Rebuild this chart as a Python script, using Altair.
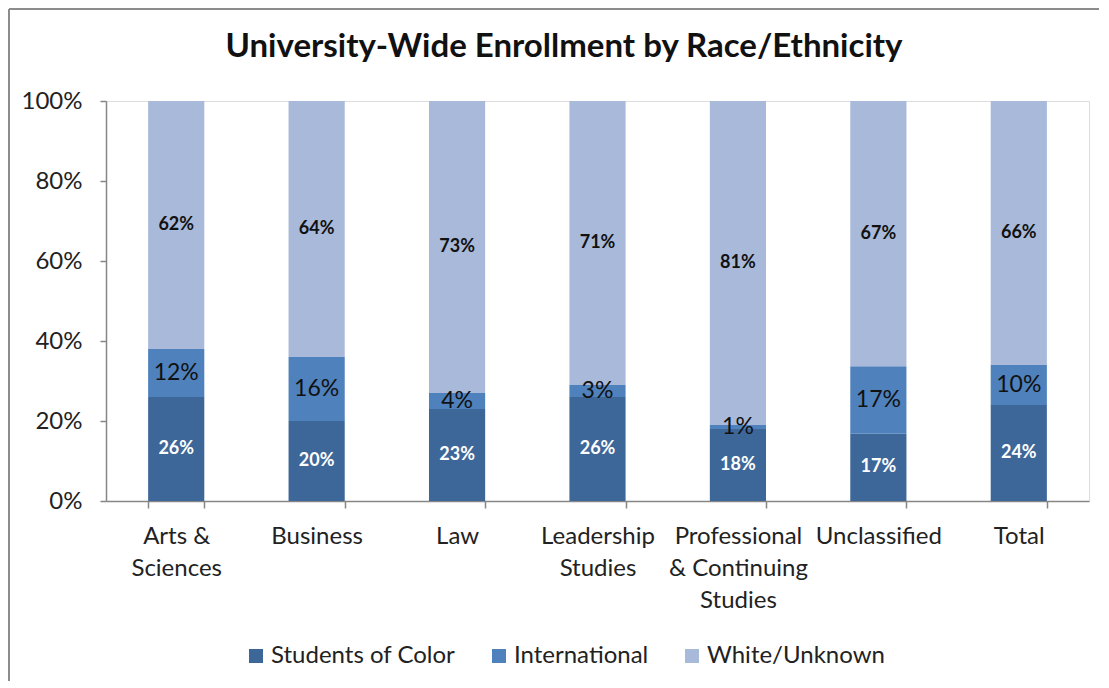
import altair as alt
import pandas as pd

title_text = "University-Wide Enrollment by Race/Ethnicity"
categories = ["Arts & Sciences", "Business", "Law", "Leadership Studies",
              "Professional & Continuing Studies", "Unclassified", "Total"]
groups = ["Students of Color", "International", "White/Unknown"]
students_of_color = [26, 20, 23, 26, 18, 17, 24]
international = [12, 16, 4, 3, 1, 17, 10]
white_unknown = [62, 64, 73, 71, 81, 67, 66]
colors = ["#3E6799", "#4F81BD", "#A8B9DA"]
y_ticks = [0, 0.2, 0.4, 0.6, 0.8, 1.0]

rows = []
for gi, (g, vals) in enumerate(zip(groups, [students_of_color, international, white_unknown])):
    for c, v in zip(categories, vals):
        rows.append({"cat": c, "group": g, "ord": gi, "value": v, "label": f"{v}%"})
df = pd.DataFrame(rows)

label_expr = (
    "datum.label == 'Arts & Sciences' ? ['Arts &', 'Sciences'] : "
    "datum.label == 'Leadership Studies' ? ['Leadership', 'Studies'] : "
    "datum.label == 'Professional & Continuing Studies' ? ['Professional', '& Continuing', 'Studies'] : "
    "datum.label"
)

base = alt.Chart(df).transform_stack(
    stack="value", groupby=["cat"], as_=["y0", "y1"], offset="normalize",
    sort=[alt.SortField("ord", order="ascending")]
).transform_calculate(mid="(datum.y0 + datum.y1) / 2")

xenc = alt.X("cat:N", sort=categories, title=None,
             scale=alt.Scale(paddingInner=0.6, paddingOuter=0.3),
             axis=alt.Axis(labelExpr=label_expr, labelAngle=0, tickBand="extent",
                           grid=False,
                           labelFontSize=24, labelLineHeight=32, labelPadding=16,
                           labelColor="#222222", labelFont="Lato",
                           domainColor="#868686", tickColor="#868686",
                           domainWidth=1.5, tickWidth=1.5, tickSize=7, labelLimit=200))

bars = base.mark_bar().encode(
    x=xenc,
    y=alt.Y("y0:Q", title=None,
            scale=alt.Scale(domain=[0, 1], nice=False),
            axis=alt.Axis(values=y_ticks, format=".0%", grid=False,
                          labelFontSize=24, labelColor="#222222", labelFont="Lato",
                          labelPadding=18, tickSize=6,
                          domainColor="#868686", tickColor="#868686",
                          domainWidth=1.5, tickWidth=1.5)),
    y2="y1:Q",
    color=alt.Color("group:N", sort=groups,
                    scale=alt.Scale(domain=groups, range=colors),
                    legend=alt.Legend(title=None, orient="none", direction="horizontal",
                                      legendX=138, legendY=543,
                                      symbolType="square", symbolSize=196,
                                      symbolStrokeWidth=0, labelFontSize=24,
                                      labelFont="Lato", labelColor="#222222",
                                      columnPadding=31, labelOffset=3, labelLimit=300)),
)

txt_dark = base.transform_filter(alt.datum.ord == 0).mark_text(
    color="white", fontWeight="bold", fontSize=18, font="Lato", baseline="middle"
).encode(x=alt.X("cat:N", sort=categories), y="mid:Q", text="label:N")

txt_mid = base.transform_filter(alt.datum.ord == 1).mark_text(
    color="#111111", fontSize=23, font="Lato", baseline="middle"
).encode(x=alt.X("cat:N", sort=categories), y="mid:Q", text="label:N")

txt_light = base.transform_filter(alt.datum.ord == 2).mark_text(
    color="#111111", fontWeight="bold", fontSize=18, font="Lato", baseline="middle"
).encode(x=alt.X("cat:N", sort=categories), y="mid:Q", text="label:N")

one = pd.DataFrame({"t": [title_text]})
title = alt.Chart(one).mark_text(
    fontSize=33, font="Lato", fontWeight="bold", color="#111111",
    align="center", baseline="alphabetic"
).encode(x=alt.value(458), y=alt.value(-44), text="t:N")

frame_left = alt.Chart(one).mark_rule(color="#8c8c8c", strokeWidth=2).encode(
    x=alt.value(-97), y=alt.value(-92), y2=alt.value(590))
frame_top = alt.Chart(one).mark_rule(color="#8c8c8c", strokeWidth=2).encode(
    x=alt.value(-97), x2=alt.value(1000), y=alt.value(-92))

chart = alt.layer(frame_left, frame_top, bars, txt_dark, txt_mid, txt_light, title).properties(
    width=983, height=400,
    autosize=alt.AutoSizeParams(type="none"),
    padding={"left": 98, "top": 93, "right": 10, "bottom": 180},
).configure_view(stroke="transparent").configure(background="white")

chart.save("out.html", embed_options={"renderer": "svg", "actions": False})
